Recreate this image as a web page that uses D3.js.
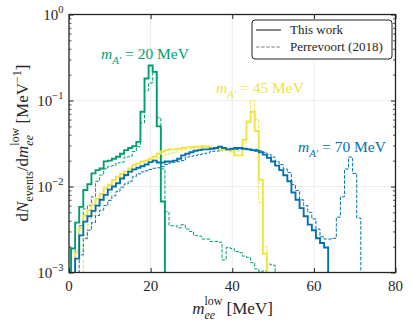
<!DOCTYPE html>
<html>
<head>
<meta charset="utf-8">
<script src="https://cdn.jsdelivr.net/npm/d3@7"></script>
<style>
body{margin:0;background:#fff;}
</style>
</head>
<body>
<script>
// bin i of every series is centred on (i+1) MeV, 1 MeV wide; 0 = empty bin
var thisWork20 = [1.9e-3,3.8e-3,5.8e-3,9.1e-3,1.06e-2,1.42e-2,1.55e-2,1.62e-2,1.96e-2,2.0e-2,
  2.1e-2,2.22e-2,2.4e-2,2.65e-2,2.8e-2,2.95e-2,3.3e-2,7.4e-2,0.18,0.255,
  0.215,0.05,6.7e-3];
var perre20 = [0,1.8e-3,3.5e-3,5.5e-3,6.0e-3,7.6e-3,1.15e-2,1.36e-2,1.6e-2,1.72e-2,
  1.75e-2,1.88e-2,1.92e-2,2.2e-2,2.25e-2,2.55e-2,2.9e-2,5.5e-2,0.13,0.16,
  0.21,0.063,0.016,5.1e-3,3.5e-3,3.5e-3,3.3e-3,3.6e-3,3.2e-3,3.0e-3,
  2.7e-3,2.65e-3,2.45e-3,2.45e-3,2.3e-3,2.3e-3,2.25e-3,1.4e-3,1.95e-3,1.9e-3,
  1.75e-3,1.7e-3,1.55e-3,1.5e-3,1.3e-3,1.1e-3,1.02e-3,1.05e-3,1.25e-3,1.22e-3];
var thisWork45 = [0,1.7e-3,3.3e-3,4.6e-3,5.3e-3,6.2e-3,7.2e-3,8.2e-3,9.5e-3,1.05e-2,
  1.18e-2,1.3e-2,1.4e-2,1.49e-2,1.62e-2,1.77e-2,1.85e-2,1.95e-2,2.0e-2,2.1e-2,
  2.22e-2,2.4e-2,2.55e-2,2.65e-2,2.7e-2,2.7e-2,2.75e-2,2.8e-2,2.85e-2,2.85e-2,
  2.9e-2,2.9e-2,2.95e-2,2.9e-2,2.8e-2,2.75e-2,2.7e-2,2.65e-2,2.65e-2,2.6e-2,
  2.3e-2,2.3e-2,3.5e-2,5.7e-2,7.4e-2,4.4e-2,1.2e-2,1.65e-3];
var perre45 = [0,0,0,2.4e-3,3.6e-3,4.6e-3,5.5e-3,6.4e-3,7.4e-3,8.5e-3,
  9.6e-3,1.1e-2,1.2e-2,1.3e-2,1.45e-2,1.55e-2,1.65e-2,1.75e-2,1.85e-2,1.95e-2,
  2.05e-2,2.15e-2,2.25e-2,2.35e-2,2.45e-2,2.5e-2,2.6e-2,2.65e-2,2.7e-2,2.75e-2,
  2.8e-2,2.8e-2,2.85e-2,2.85e-2,2.8e-2,2.75e-2,2.7e-2,2.65e-2,2.6e-2,2.5e-2,
  2.55e-2,2.6e-2,3.2e-2,5.5e-2,0.1,6.0e-2,6.5e-3,2.0e-3];
var thisWork70 = [0,1.45e-3,2.7e-3,3.9e-3,4.5e-3,5.2e-3,6.0e-3,7.0e-3,8.0e-3,9.2e-3,
  1.0e-2,1.09e-2,1.24e-2,1.36e-2,1.49e-2,1.58e-2,1.65e-2,1.72e-2,1.8e-2,1.92e-2,
  2.0e-2,1.9e-2,1.9e-2,1.95e-2,1.95e-2,2.0e-2,2.1e-2,2.3e-2,2.4e-2,2.5e-2,
  2.6e-2,2.65e-2,2.7e-2,2.7e-2,2.75e-2,2.8e-2,2.9e-2,2.8e-2,2.7e-2,2.75e-2,
  2.8e-2,2.8e-2,2.75e-2,2.7e-2,2.65e-2,2.6e-2,2.5e-2,2.35e-2,2.15e-2,1.95e-2,
  1.75e-2,1.55e-2,1.35e-2,1.15e-2,8.5e-3,7.0e-3,5.6e-3,4.5e-3,3.6e-3,3.1e-3,
  2.5e-3,2.2e-3,1.95e-3];
var perre70 = [0,0,1.6e-3,2.5e-3,3.1e-3,3.8e-3,4.6e-3,5.3e-3,6.0e-3,6.9e-3,
  7.8e-3,8.8e-3,9.8e-3,1.07e-2,1.15e-2,1.3e-2,1.4e-2,1.48e-2,1.52e-2,1.58e-2,
  1.63e-2,1.65e-2,1.7e-2,1.8e-2,1.88e-2,1.92e-2,1.96e-2,2.0e-2,2.2e-2,2.25e-2,
  2.3e-2,2.35e-2,2.4e-2,2.45e-2,2.55e-2,2.58e-2,2.6e-2,2.62e-2,2.65e-2,2.65e-2,
  2.7e-2,2.7e-2,2.75e-2,2.75e-2,2.7e-2,2.7e-2,2.6e-2,2.5e-2,2.35e-2,2.2e-2,
  1.95e-2,1.8e-2,1.6e-2,1.45e-2,1.05e-2,9.0e-3,7.0e-3,6.0e-3,5.0e-3,4.2e-3,
  3.2e-3,2.6e-3,2.45e-3,2.45e-3,2.5e-3,4.4e-3,7.6e-3,1.6e-2,2.2e-2,1.42e-2,
  4.3e-3];

var masses = ["20","45","70"];
var colors = ["#009E73","#F0E442","#0072B2"];
var xTicks = [0,20,40,60,80];
var yTicks = [1e-3,1e-2,1e-1,1];
var yTickExp = ["\u22123","\u22122","\u22121","0"];
var legendText = ["This work","Perrevoort (2018)"];

var FONT = "'Liberation Serif','Times New Roman','DejaVu Serif',serif";
var width = 412, height = 328;
var x = d3.scaleLinear().domain([0,80]).range([69,395.5]);
var y = d3.scaleLog().domain([1e-3,1]).range([272.5,14.5]);

var svg = d3.select("body").append("svg")
  .attr("width",width).attr("height",height)
  .attr("font-family",FONT);

svg.append("clipPath").attr("id","plotclip").append("rect")
  .attr("x",x(0)).attr("y",y(1)).attr("width",x(80)-x(0)).attr("height",y(1e-3)-y(1));

// grid
var grid = svg.append("g");
[20,40,60].forEach(function(v){
  grid.append("line").attr("x1",x(v)).attr("x2",x(v)).attr("y1",y(1)).attr("y2",y(1e-3))
    .attr("stroke","#e8e8e8").attr("stroke-width",0.8);
});
[1e-2,1e-1].forEach(function(v){
  grid.append("line").attr("x1",x(0)).attr("x2",x(80)).attr("y1",y(v)).attr("y2",y(v))
    .attr("stroke","#e8e8e8").attr("stroke-width",0.8);
});

function stepPath(vals){
  var first=-1,last=-1;
  vals.forEach(function(v,i){ if(v>0){ if(first<0) first=i; last=i; } });
  var yb = y(1e-3)+6, pts=[];
  pts.push([x(first+0.5),yb]);
  for(var i=first;i<=last;i++){
    var yy = vals[i]>0 ? y(vals[i]) : yb;
    pts.push([x(i+0.5),yy]);
    pts.push([x(i+1.5),yy]);
  }
  pts.push([x(last+1.5),yb]);
  return d3.line()(pts);
}

var plot = svg.append("g").attr("clip-path","url(#plotclip)");
var dashedSeries = [perre20,perre45,perre70];
var solidSeries = [thisWork20,thisWork45,thisWork70];
dashedSeries.forEach(function(s,i){
  plot.append("path").attr("d",stepPath(s)).attr("fill","none")
    .attr("stroke",colors[i]).attr("stroke-width",1).attr("stroke-dasharray","3.5,1.6");
});
solidSeries.forEach(function(s,i){
  plot.append("path").attr("d",stepPath(s)).attr("fill","none")
    .attr("stroke",colors[i]).attr("stroke-width",1.9).attr("stroke-linejoin","miter");
});

// axes with inward ticks on all four sides
var minor = [];
[1e-3,1e-2,1e-1].forEach(function(d){ for(var k=2;k<10;k++) minor.push(d*k); });
function yAxisG(axisFn, tx){
  svg.append("g").attr("transform","translate("+tx+",0)")
    .call(axisFn(y).tickValues(yTicks).tickSize(-4.5).tickFormat(""))
    .call(function(g){ g.select(".domain").remove(); g.selectAll("line").attr("stroke","#222"); });
  svg.append("g").attr("transform","translate("+tx+",0)")
    .call(axisFn(y).tickValues(minor).tickSize(-2.5).tickFormat(""))
    .call(function(g){ g.select(".domain").remove(); g.selectAll("line").attr("stroke","#222").attr("stroke-width",0.8); });
}
yAxisG(d3.axisLeft, x(0));
yAxisG(d3.axisRight, x(80));
svg.append("g").attr("transform","translate(0,"+y(1e-3)+")")
  .call(d3.axisBottom(x).tickValues(xTicks).tickSize(-4.5).tickFormat(""))
  .call(function(g){ g.select(".domain").remove(); g.selectAll("line").attr("stroke","#222"); });
svg.append("g").attr("transform","translate(0,"+y(1)+")")
  .call(d3.axisTop(x).tickValues(xTicks).tickSize(-4.5).tickFormat(""))
  .call(function(g){ g.select(".domain").remove(); g.selectAll("line").attr("stroke","#222"); });

svg.append("rect").attr("x",x(0)).attr("y",y(1)).attr("width",x(80)-x(0)).attr("height",y(1e-3)-y(1))
  .attr("fill","none").attr("stroke","#222").attr("stroke-width",1.3);

// tick labels
xTicks.forEach(function(v){
  svg.append("text").attr("x",x(v)).attr("y",291).attr("text-anchor","middle")
    .attr("font-family",FONT).attr("font-size",15).attr("fill","#262626").text(v);
});

// math-like label: one <text>, runs as positioned tspans
function mathText(parent, parts, size, color){
  var g = parent.append("g");
  var t = g.append("text").attr("font-family",FONT).attr("fill",color);
  var cx=0, lastX=0, lastW=0;
  parts.forEach(function(p){
    var s = p.pos ? size*0.7 : size;
    var dy = p.pos==="sub" ? size*0.3 : (p.pos==="sup" ? -size*(p.stack?0.52:0.42) : 0);
    var ts = t.append("tspan").attr("font-size",s).attr("font-style",p.it?"italic":"normal")
      .attr("y",dy).text(p.t);
    var w = ts.node().getComputedTextLength();
    if(p.stack){ ts.attr("x",lastX); cx = lastX+Math.max(lastW,w); }
    else { ts.attr("x",cx); lastX=cx; lastW=w; cx+=w; }
  });
  return {g:g, w:cx};
}

yTicks.forEach(function(v,i){
  var r = mathText(svg,[{t:"10"},{t:yTickExp[i],pos:"sup"}],15,"#262626");
  r.g.attr("transform","translate("+(63.5-r.w)+","+(y(v)+5)+")");
});

// axis titles
var xl = mathText(svg,[{t:"m",it:true},{t:"ee",it:true,pos:"sub"},{t:"low",pos:"sup",stack:true},
  {t:"\u00a0[MeV]"}],17,"#262626");
xl.g.attr("transform","translate("+(232.5-xl.w/2)+",314)");

var ylab = svg.append("g").attr("transform","translate(28,143) rotate(-90)");
var yl = mathText(ylab,[{t:"d"},{t:"N",it:true},{t:"events",pos:"sub"},{t:"/d"},{t:"m",it:true},
  {t:"ee",it:true,pos:"sub"},{t:"low",pos:"sup",stack:true},{t:"\u00a0[MeV"},{t:"\u22121",pos:"sup"},{t:"]"}],17,"#262626");
yl.g.attr("transform","translate("+(-yl.w/2)+",0)");

// mass labels
var labelPos = [[101,59],[216,93],[298,152]];
masses.forEach(function(mv,i){
  var r = mathText(svg,[{t:"m",it:true},{t:"A\u2032",it:true,pos:"sub"},{t:"\u00a0=\u00a0"+mv+"\u00a0MeV"}],15.5,colors[i]);
  r.g.attr("transform","translate("+labelPos[i][0]+","+labelPos[i][1]+")");
});

// legend
var lg = svg.append("g");
lg.append("rect").attr("x",252).attr("y",20).attr("width",140).attr("height",39).attr("rx",3)
  .attr("fill","#fff").attr("stroke","#222").attr("stroke-width",1);
lg.append("line").attr("x1",256).attr("x2",281).attr("y1",30).attr("y2",30)
  .attr("stroke","#808080").attr("stroke-width",1.9);
lg.append("line").attr("x1",256).attr("x2",281).attr("y1",47).attr("y2",47)
  .attr("stroke","#808080").attr("stroke-width",1).attr("stroke-dasharray","3.5,1.6");
legendText.forEach(function(t,i){
  lg.append("text").attr("x",290).attr("y",34+i*17).attr("font-family",FONT).attr("font-size",13)
    .attr("fill","#262626").text(t);
});
</script>
</body>
</html>
